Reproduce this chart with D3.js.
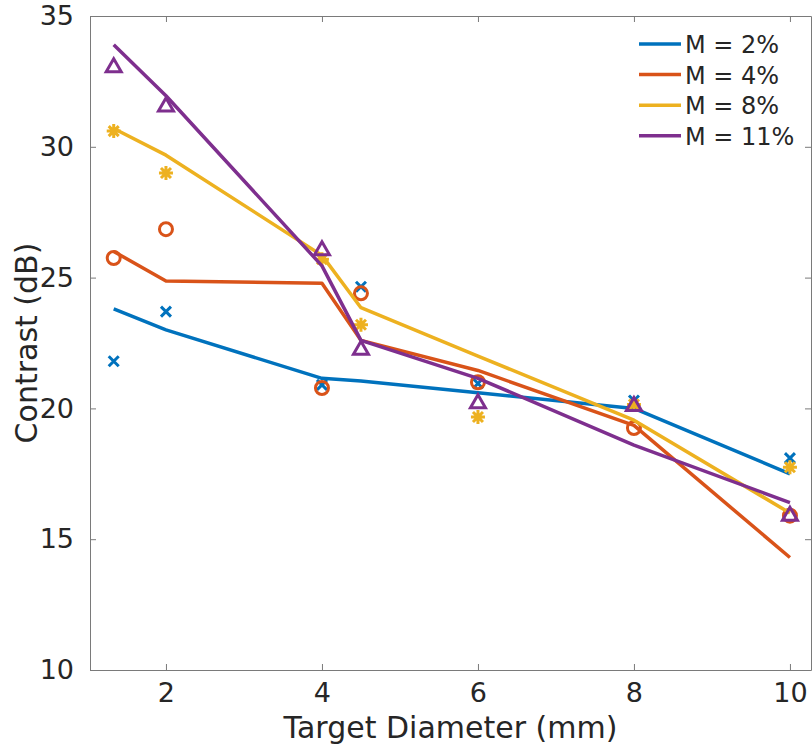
<!DOCTYPE html>
<html lang="en">

<head>
  <meta charset="utf-8">
  <title>Contrast vs Target Diameter</title>
  <script src="https://d3js.org/d3.v7.min.js"></script>
</head>

<body style="margin:0; background:#fff;">
  <div id="chart"></div>

  <style>
    #chart text {
      font-family: "DejaVu Sans", sans-serif;
      fill: #262626;
    }
  </style>

  <script type="text/javascript">
    "use strict"

    // diametros do alvo (mm)
    var diameters = [1.33, 2, 4, 4.5, 6, 8, 10];
    var seriesNames = ["M = 2%", "M = 4%", "M = 8%", "M = 11%"];

    // pontos medidos
    var measured2 = [21.8, 23.7, 20.9, 24.65, 20.95, 20.3, 18.1];
    var measured4 = [25.75, 26.85, 20.78, 24.4, 21.0, 19.25, 15.9];
    var measured8 = [30.6, 29.0, 25.7, 23.2, 19.67, 20.15, 17.75];
    var measured11 = [33.1, 31.6, 26.1, 22.3, 20.25, 20.15, 15.95];

    // curvas ajustadas
    var fit2 = [23.8, 23.0, 21.15, 21.05, 20.6, 20.0, 17.5];
    var fit4 = [26.0, 24.87, 24.78, 22.6, 21.45, 19.35, 14.3];
    var fit8 = [30.7, 29.68, 25.85, 23.85, 22.0, 19.55, 16.0];
    var fit11 = [33.9, 31.95, 25.45, 22.6, 21.15, 18.6, 16.4];

    var xTicks = [2, 4, 6, 8, 10];
    var yTicks = [10, 15, 20, 25, 30, 35];

    var colors = ["#0072BD", "#D95319", "#EDB120", "#7E2F8E"];
    var markers = ["x", "o", "*", "^"];

    var measured = [measured2, measured4, measured8, measured11];
    var fits = [fit2, fit4, fit8, fit11];

    function markerPath(kind) {
      if (kind === "x") return "M-5,-5L5,5M-5,5L5,-5";
      if (kind === "*") return "M0,-7L0,7M-7,0L7,0M-5,-5L5,5M-5,5L5,-5";
      if (kind === "^") return "M0,-7L7.5,6L-7.5,6Z";
      return "M-6.5,0A6.5,6.5 0 1,0 6.5,0A6.5,6.5 0 1,0 -6.5,0Z";
    }

    function desenha() {
      var larguraSVG = 812, alturaSVG = 748;
      var left = 90, right = 811, top = 16, bottom = 670;

      var svg = d3.select('#chart')
        .append('svg')
          .attr('width', larguraSVG)
          .attr('height', alturaSVG);

      var x = d3.scaleLinear()
                .domain([1.026, 10.27])
                .range([left, right]);

      var y = d3.scaleLinear()
                .domain([10, 35])
                .range([bottom, top]);

      /*
       * Eixos estilo MATLAB (box on, ticks para dentro)
       */
      svg.append("g")
        .attr("transform", "translate(0," + bottom + ")")
        .call(d3.axisBottom(x).tickValues(xTicks).tickSizeInner(-6).tickSizeOuter(0).tickPadding(13));
      svg.append("g")
        .attr("transform", "translate(0," + top + ")")
        .call(d3.axisTop(x).tickValues(xTicks).tickSizeInner(-6).tickSizeOuter(0).tickFormat(""));
      svg.append("g")
        .attr("transform", "translate(" + left + ",0)")
        .call(d3.axisLeft(y).tickValues(yTicks).tickSizeInner(-6).tickSizeOuter(0).tickPadding(16));
      svg.append("g")
        .attr("transform", "translate(" + right + ",0)")
        .call(d3.axisRight(y).tickValues(yTicks).tickSizeInner(-6).tickSizeOuter(0).tickFormat(""));

      svg.selectAll(".domain").attr("stroke", "#7a7a7a");
      svg.selectAll(".tick line").attr("stroke", "#7a7a7a");
      svg.selectAll(".tick text").style("font-size", "27px");

      svg.append("text")
        .attr("x", (left + right) / 2)
        .attr("y", 738)
        .attr("text-anchor", "middle")
        .style("font-size", "30px")
        .text("Target Diameter (mm)");

      svg.append("text")
        .attr("transform", "translate(37," + (top + bottom) / 2 + ") rotate(-90)")
        .attr("text-anchor", "middle")
        .style("font-size", "30px")
        .text("Contrast (dB)");

      /*
       * As marcas: pontos e curvas
       */
      var linha = d3.line()
        .x(function(d, i) { return x(diameters[i]); })
        .y(function(d) { return y(d); });

      measured.forEach(function(serie, s) {
        svg.append("g").selectAll("path")
          .data(serie)
          .enter()
          .append("path")
            .attr("transform", function(d, i) { return "translate(" + x(diameters[i]) + "," + y(d) + ")"; })
            .attr("d", markerPath(markers[s]))
            .attr("fill", "none")
            .attr("stroke", colors[s])
            .attr("stroke-width", 3);

        svg.append("path")
          .datum(fits[s])
          .attr("d", linha)
          .attr("fill", "none")
          .attr("stroke", colors[s])
          .attr("stroke-width", 3.5)
          .attr("stroke-linejoin", "round");
      });

      /*
       * Legenda
       */
      var legenda = svg.append("g");
      seriesNames.forEach(function(nome, s) {
        var ly = 44 + s * 30.6;
        legenda.append("line")
          .attr("x1", 639).attr("x2", 681)
          .attr("y1", ly).attr("y2", ly)
          .attr("stroke", colors[s])
          .attr("stroke-width", 3.5);
        legenda.append("text")
          .attr("x", 685)
          .attr("y", ly + 9)
          .style("font-size", "24px")
          .text(nome);
      });
    }

    desenha();
  </script>
</body>

</html>
